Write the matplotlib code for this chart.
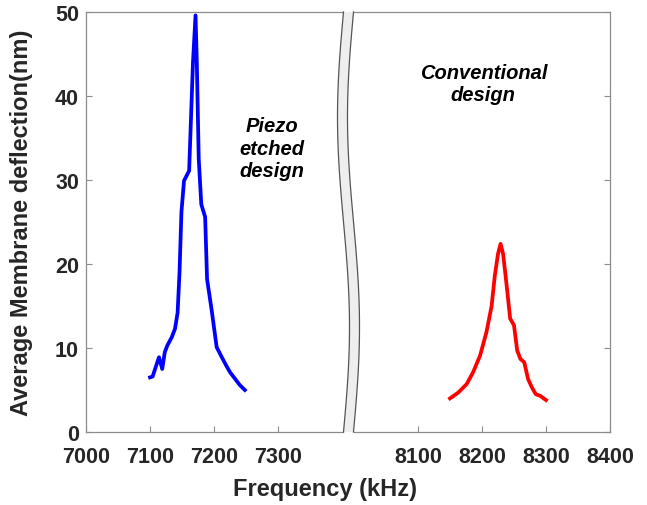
import matplotlib
matplotlib.use("Agg")
import matplotlib.pyplot as plt
from matplotlib.patches import Polygon
import numpy as np

plt.rcParams["font.family"] = ["Liberation Sans", "DejaVu Sans"]

# piezo etched membrane (blue)
etched_freq = [7100, 7104, 7110, 7114, 7119, 7123, 7127, 7134, 7139, 7143, 7146,
               7149, 7153, 7161, 7167, 7171, 7173, 7176, 7180, 7186, 7189, 7196,
               7204, 7212, 7219, 7225, 7233, 7240, 7248]
etched_defl = [6.5, 6.6, 8.0, 8.9, 7.5, 9.5, 10.3, 11.3, 12.3, 14.2, 19.0,
               26.2, 29.9, 31.1, 44.0, 49.6, 44.0, 32.5, 27.1, 25.6, 18.2, 14.6,
               10.1, 8.9, 7.9, 7.1, 6.3, 5.6, 5.0]

# conventional membrane (red)
conv_freq = [8150, 8163, 8176, 8186, 8197, 8207, 8215, 8220, 8225, 8229, 8233,
             8238, 8244, 8250, 8255, 8260, 8266, 8272, 8278, 8284, 8291, 8300]
conv_defl = [4.0, 4.7, 5.7, 7.1, 9.1, 11.9, 15.0, 18.6, 21.2, 22.4, 21.2,
             17.8, 13.5, 12.7, 9.7, 8.7, 8.3, 6.3, 5.3, 4.5, 4.3, 3.8]

left_ticks = [7000, 7100, 7200, 7300]
right_ticks = [8100, 8200, 8300, 8400]
y_ticks = [0, 10, 20, 30, 40, 50]

W, H = 647, 506
SPINE = "#8c8c8c"
TXT = "#262626"

fig = plt.figure(figsize=(W / 100, H / 100), dpi=100)
ax_l = fig.add_axes([86 / W, 73 / H, 257.5 / W, 420 / H])
ax_r = fig.add_axes([354 / W, 73 / H, 256 / W, 420 / H])

ax_l.plot(etched_freq, etched_defl, color="#0000ff", lw=2.7, solid_joinstyle="round")
ax_r.plot(conv_freq, conv_defl, color="#ff0000", lw=2.7, solid_joinstyle="round")

ax_l.set_xlim(7000, 7402)
ax_r.set_xlim(8000, 8400)
for ax in (ax_l, ax_r):
    ax.set_ylim(0, 50)
    ax.set_yticks(y_ticks)
    for s in ax.spines.values():
        s.set_color(SPINE)
        s.set_linewidth(0.9)
    ax.tick_params(direction="in", length=4, color=SPINE, labelcolor=TXT,
                   labelsize=15.5, pad=5)
    ax.tick_params(axis="x", pad=10)

ax_l.set_xticks(left_ticks)
ax_l.set_xticklabels([str(t) for t in left_ticks], fontweight="bold")
ax_l.set_yticklabels([str(t) for t in y_ticks], fontweight="bold")
ax_l.spines["right"].set_visible(False)

ax_r.set_xticks(right_ticks)
ax_r.set_xticklabels([str(t) for t in right_ticks], fontweight="bold")
ax_r.spines["left"].set_visible(False)
ax_r.tick_params(axis="y", left=False, right=True, labelleft=False)

ax_l.text(7290, 33.8, "Piezo\netched\ndesign", ha="center", va="center",
          fontsize=14.5, fontweight="bold", fontstyle="italic", color="black",
          linespacing=1.25)
ax_r.text(8202, 41.5, "Conventional\ndesign", ha="center", va="center",
          fontsize=14.5, fontweight="bold", fontstyle="italic", color="black",
          linespacing=1.25)

# wavy break band between the two panels
yy = np.linspace(13, 433, 80)
t = (yy - 13) / 420
xc = 348.5 - 6 * np.sin(2 * np.pi * t)
left_edge = np.column_stack([(xc - 5) / W, 1 - yy / H])
right_edge = np.column_stack([(xc + 5) / W, 1 - yy / H])
band = Polygon(np.vstack([left_edge, right_edge[::-1]]), closed=True,
               transform=fig.transFigure, facecolor="#eeeeee", edgecolor="none")
fig.add_artist(band)
for edge in (left_edge, right_edge):
    fig.add_artist(plt.Line2D(edge[:, 0], edge[:, 1], transform=fig.transFigure,
                              color="#555555", lw=0.9))

fig.text(325 / W, 1 - 490 / H, "Frequency (kHz)", ha="center", va="center",
         fontsize=17, fontweight="bold", color=TXT)
fig.text(22 / W, 1 - 223 / H, "Average Membrane deflection(nm)", ha="center",
         va="center", rotation=90, fontsize=17, fontweight="bold", color=TXT)

fig.savefig("out.png", dpi=100)
